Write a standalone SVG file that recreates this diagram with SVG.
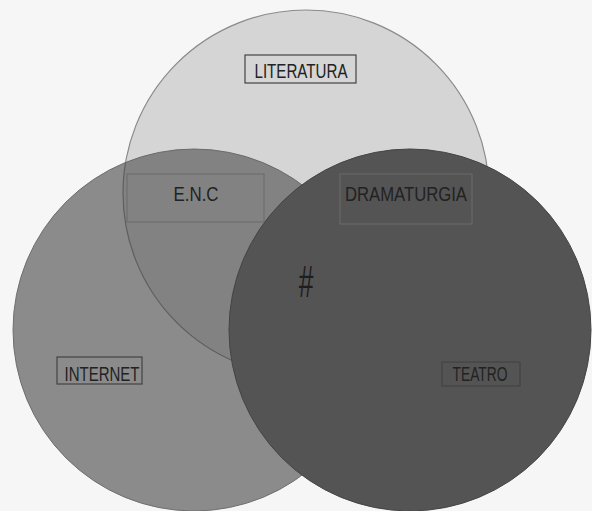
<svg xmlns="http://www.w3.org/2000/svg" width="592" height="511" viewBox="0 0 592 511">
<style>
.lbl{font-family:"Liberation Sans Narrow","Liberation Sans",Arial,sans-serif;font-size:20px;fill:#222;text-anchor:middle}
.box{fill:none;stroke:#444;stroke-width:1.2}
.fbox{fill:none;stroke:#6a6a6a;stroke-width:1}
</style>
<defs>
<clipPath id="clipLeft"><circle cx="194" cy="330" r="181"/></clipPath>
</defs>
<rect width="592" height="511" fill="#f6f6f6"/>
<g id="literatura">
<circle cx="306" cy="193" r="183" fill="#d5d5d5" stroke="#8a8a8a" stroke-width="1.2"/>
<rect class="box" x="245" y="55" width="111" height="28"/>
<text class="lbl" x="301" y="78" textLength="93" lengthAdjust="spacingAndGlyphs">LITERATURA</text>
</g>
<g id="internet">
<circle cx="194" cy="330" r="181" fill="#8b8b8b" stroke="#6e6e6e" stroke-width="1"/>
<circle cx="306" cy="193" r="183" fill="#000" fill-opacity="0.06" stroke="#5e5e5e" stroke-width="1.2" clip-path="url(#clipLeft)"/>
<rect class="box" x="57" y="357" width="85" height="27"/>
<text class="lbl" x="102" y="381" textLength="75" lengthAdjust="spacingAndGlyphs">INTERNET</text>
</g>
<g id="enc">
<rect class="fbox" x="127" y="174" width="137" height="48"/>
<text class="lbl" x="196" y="201" textLength="45" lengthAdjust="spacingAndGlyphs">E.N.C</text>
</g>
<g id="teatro">
<circle cx="410" cy="330" r="181" fill="#545454" stroke="#444" stroke-width="1"/>
<rect class="box" x="442" y="362" width="78" height="24" stroke="#333"/>
<text class="lbl" x="480" y="381" textLength="55" lengthAdjust="spacingAndGlyphs">TEATRO</text>
</g>
<g id="dramaturgia">
<rect class="fbox" x="340" y="174" width="132" height="50" stroke="#4a4a4a"/>
<text class="lbl" x="406" y="201" textLength="122" lengthAdjust="spacingAndGlyphs">DRAMATURGIA</text>
</g>
<g id="hash">
<text x="0" y="0" transform="translate(306,297) scale(0.6,1)" style="font-family:'Liberation Sans',Arial,sans-serif;font-size:44px;fill:#1e1e1e;text-anchor:middle">#</text>
</g>
<g id="connectors"></g>
</svg>
